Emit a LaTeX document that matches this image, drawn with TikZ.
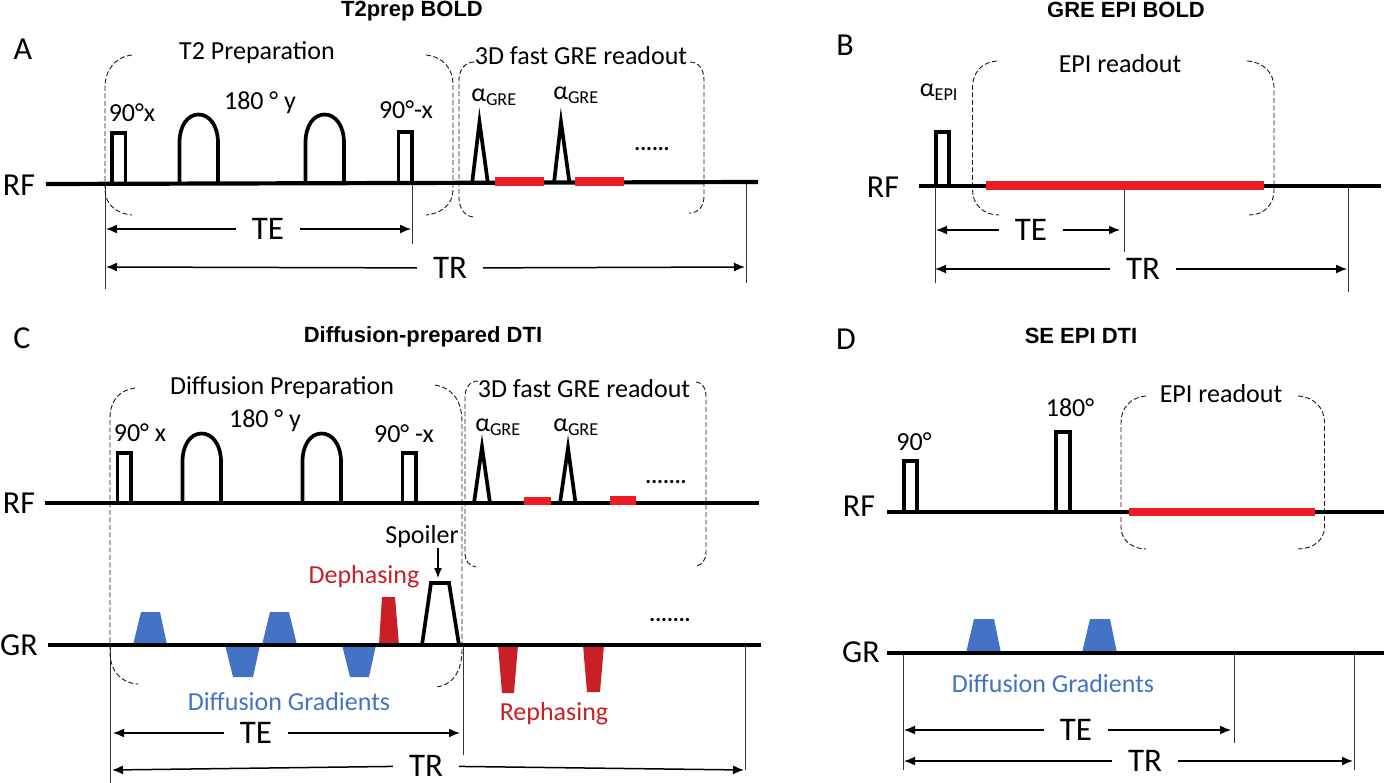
\documentclass[tikz,border=0pt]{standalone}
\usepackage{fontspec}
\setmainfont{Carlito}
\newfontfamily\titlefont{Liberation Sans}
\usetikzlibrary{positioning,arrows.meta}
\definecolor{readred}{RGB}{237,28,36}
\definecolor{gradred}{RGB}{200,32,38}
\definecolor{gradblue}{RGB}{68,114,196}
\begin{document}
\begin{tikzpicture}[
	x=1pt,y=-1pt,
	ar/.style={-{Latex[length=11pt,width=9pt]},line width=1.5pt},
	axisline/.style={line width=4.2pt},
	pulse/.style={line width=3.7pt,miter limit=10},
	timetick/.style={line width=1pt,black!80},
	bracket/.style={dash pattern=on 5pt off 2.5pt,line width=0.9pt,black!90},
	readbar/.style={fill=readred},
	blueramp/.style={fill=gradblue},
	redramp/.style={fill=gradred},
	titlelabel/.style={font=\titlefont\bfseries\fontsize{22}{26}\selectfont,inner sep=0pt},
	panellabel/.style={font=\fontsize{32}{36}\selectfont,inner sep=0pt},
	axislabel/.style={font=\fontsize{32}{36}\selectfont,inner sep=0pt},
	timelabel/.style={font=\fontsize{33}{36}\selectfont,inner ysep=0pt,inner xsep=16pt},
	mylabel/.style={font=\fontsize{26}{30}\selectfont,inner sep=0pt},
	gaplabel/.style={font=\fontsize{22}{26}\selectfont\bfseries,inner sep=0pt}
	]
	\useasboundingbox (0,0) rectangle (1384,783);

	% panel A
	\node[titlelabel] (titleA) at (412,11) {T2prep BOLD};
	\node[panellabel] (panelA) at (23,49) {A};
	\node[axislabel] (rfA) at (19,185) {RF};
	\coordinate (rfAstart) at (46,184);
	\coordinate (rfAend) at (758,182);
	\coordinate (tickA1) at (105,184);
	\coordinate (tickA1end) at (105,289);
	\coordinate (tickA2) at (412,184);
	\coordinate (tickA2end) at (412,244);
	\coordinate (tickA3) at (746,184);
	\coordinate (tickA3end) at (746,283);
	\draw[timetick] (tickA1) -- (tickA1end);
	\draw[timetick] (tickA2) -- (tickA2end);
	\draw[timetick] (tickA3) -- (tickA3end);
	\draw[bracket] (132,55) .. controls (115,57) and (105,70) .. (105,88) -- (105,190) .. controls (105,205) and (118,214) .. (132,215);
	\draw[bracket] (426,55) .. controls (443,57) and (453,68) .. (453,85) -- (453,190) .. controls (453,205) and (440,214) .. (426,215);
	\draw[bracket] (474,62) .. controls (465,62) and (459,70) .. (459,80) -- (459,198) .. controls (459,208) and (465,217) .. (474,217);
	\draw[bracket] (690,62) .. controls (699,62) and (704,70) .. (704,80) -- (704,196) .. controls (704,206) and (699,213) .. (689,213);
	\draw[axisline] (rfAstart) -- (rfAend);
	\draw[pulse] (112,184) -- (112,133) -- (125.5,133) -- (125.5,184);
	\draw[pulse] (179.5,184) -- (179.5,143) .. controls (179.5,125) and (188,114.5) .. (198.5,114.5) .. controls (209,114.5) and (218,125) .. (218,143) -- (218,184);
	\draw[pulse] (305.5,184) -- (305.5,143) .. controls (305.5,125) and (314,114.5) .. (324.5,114.5) .. controls (335,114.5) and (344,125) .. (344,143) -- (344,184);
	\draw[pulse] (398.5,184) -- (398.5,132) -- (412,132) -- (412,184);
	\draw[pulse] (472,184) -- (479.5,122) -- (488,184);
	\draw[pulse] (554,183) -- (561,122) -- (569.5,183);
	\fill[readbar] (495,177) rectangle (544,186);
	\fill[readbar] (575,177) rectangle (624,186);
	\node[gaplabel] (dotsA) at (652,149) {......};
	\node[mylabel] (prepA) at (257,53) {T2 Preparation};
	\node[mylabel] (readA) at (581,56) {3D fast GRE readout};
	\node[mylabel] (xA) at (132,113) {90°x};
	\node[mylabel] (yA) at (260,103) {180 ° y};
	\node[mylabel] (mxA) at (406,110) {90°-x};
	\node[mylabel] (alphaA1) at (494,97) {α\textsubscript{GRE}};
	\node[mylabel] (alphaA2) at (576,95) {α\textsubscript{GRE}};
	\node[timelabel] (teA) at (268,229) {TE};
	\node[timelabel] (trA) at (450,268) {TR};
	\coordinate (teAleft) at (106,229);
	\coordinate (teAright) at (411,229);
	\coordinate (trAleft) at (106,267);
	\coordinate (trAright) at (745,267);
	\draw[ar] (teA) -- (teAleft);
	\draw[ar] (teA) -- (teAright);
	\draw[ar] (trA) -- (trAleft);
	\draw[ar] (trA) -- (trAright);

	% panel B
	\node[titlelabel] (titleB) at (1126,10) {GRE EPI BOLD};
	\node[panellabel] (panelB) at (845,45) {B};
	\node[axislabel] (rfB) at (883,187) {RF};
	\coordinate (rfBstart) at (919,186);
	\coordinate (rfBend) at (1381,186);
	\coordinate (tickB1) at (935,186);
	\coordinate (tickB1end) at (935,283);
	\coordinate (tickB2) at (1124,186);
	\coordinate (tickB2end) at (1124,252);
	\coordinate (tickB3) at (1348,186);
	\coordinate (tickB3end) at (1348,292);
	\draw[timetick] (tickB1) -- (tickB1end);
	\draw[timetick] (tickB2) -- (tickB2end);
	\draw[timetick] (tickB3) -- (tickB3end);
	\draw[bracket] (997,61) .. controls (982,62) and (972.5,72) .. (972.5,88) -- (972.5,190) .. controls (972.5,205) and (984,215) .. (999,215);
	\draw[bracket] (1247,61) .. controls (1263,62) and (1274,72) .. (1274,88) -- (1274,190) .. controls (1274,205) and (1264,215) .. (1249,215);
	\draw[axisline] (rfBstart) -- (rfBend);
	\draw[pulse] (936,186) -- (936,132) -- (949,132) -- (949,186);
	\fill[readbar] (986,181) rectangle (1264,190);
	\node[mylabel] (alphaB) at (939,92) {α\textsubscript{EPI}};
	\node[mylabel] (readB) at (1120,64) {EPI readout};
	\node[timelabel] (teB) at (1031,230) {TE};
	\node[timelabel] (trB) at (1143,269) {TR};
	\coordinate (teBleft) at (936,230);
	\coordinate (teBright) at (1120,230);
	\coordinate (trBleft) at (935,269);
	\coordinate (trBright) at (1347,269);
	\draw[ar] (teB) -- (teBleft);
	\draw[ar] (teB) -- (teBright);
	\draw[ar] (trB) -- (trBleft);
	\draw[ar] (trB) -- (trBright);

	% panel C
	\node[titlelabel] (titleC) at (423,337) {Diffusion-prepared DTI};
	\node[panellabel] (panelC) at (22,338) {C};
	\node[axislabel] (rfC) at (19,503) {RF};
	\node[axislabel] (grC) at (19,645) {GR};
	\coordinate (rfCstart) at (45,503);
	\coordinate (rfCend) at (759,503);
	\coordinate (grCstart) at (48,645);
	\coordinate (grCend) at (761,645);
	\coordinate (tickC1) at (110,645);
	\coordinate (tickC1end) at (110,783);
	\coordinate (tickC2) at (463,645);
	\coordinate (tickC2end) at (463,755);
	\coordinate (tickC3) at (745,645);
	\coordinate (tickC3end) at (745,770);
	\draw[timetick] (tickC1) -- (tickC1end);
	\draw[timetick] (tickC2) -- (tickC2end);
	\draw[timetick] (tickC3) -- (tickC3end);
	\draw[bracket] (135,388) .. controls (120,390) and (110,400) .. (110,418) -- (110,652) .. controls (110,670) and (120,683) .. (138,684);
	\draw[bracket] (435,385) .. controls (452,388) and (462,400) .. (462,422) -- (462,650) .. controls (462,672) and (452,686) .. (435,687);
	\draw[bracket] (478,381) .. controls (470,381) and (465,388) .. (465,397) -- (465,553) .. controls (465,561) and (469,566) .. (476,567);
	\draw[bracket] (696,382) .. controls (702,382) and (706,388) .. (706,397) -- (706,552) .. controls (706,560) and (702,565) .. (696,566);
	\fill[blueramp] (133,645) -- (141,612) -- (160,612) -- (167,645) -- cycle;
	\fill[blueramp] (262,645) -- (270,612) -- (289,612) -- (297,645) -- cycle;
	\fill[blueramp] (225,645) -- (233,677) -- (253,677) -- (260,645) -- cycle;
	\fill[blueramp] (342,645) -- (350,677) -- (369,677) -- (376,645) -- cycle;
	\fill[redramp] (379,645) -- (382,597) -- (395,597) -- (399,645) -- cycle;
	\fill[redramp] (498,645) -- (502,693) -- (514,693) -- (518,645) -- cycle;
	\fill[redramp] (583,645) -- (587,692) -- (600,692) -- (604,645) -- cycle;
	\draw[pulse] (422,645) -- (431,583) -- (449,583) -- (459,645);
	\draw[axisline] (rfCstart) -- (rfCend);
	\draw[axisline] (grCstart) -- (grCend);
	\draw[pulse] (117.5,503) -- (117.5,453) -- (131,453) -- (131,503);
	\draw[pulse] (182.5,503) -- (182.5,462) .. controls (182.5,444) and (191,433.5) .. (201.5,433.5) .. controls (212,433.5) and (221,444) .. (221,462) -- (221,503);
	\draw[pulse] (302.5,503) -- (302.5,462) .. controls (302.5,444) and (311,433.5) .. (321.5,433.5) .. controls (332,433.5) and (341,444) .. (341,462) -- (341,503);
	\draw[pulse] (402.5,503) -- (402.5,453) -- (416,453) -- (416,503);
	\draw[pulse] (474,503) -- (482,447) -- (490,503);
	\draw[pulse] (560,503) -- (568,448) -- (575.5,503);
	\fill[readbar] (524,497) rectangle (551,505);
	\fill[readbar] (610,496) rectangle (636,505);
	\node[gaplabel] (dotsC1) at (666,482) {.......};
	\node[gaplabel] (dotsC2) at (670,620) {.......};
	\node[mylabel] (prepC) at (282,388) {Diffusion Preparation};
	\node[mylabel] (readC) at (584,389) {3D fast GRE readout};
	\node[mylabel] (xC) at (140,433) {90° x};
	\node[mylabel] (yC) at (265,421) {180 ° y};
	\node[mylabel] (mxC) at (404,434) {90° -x};
	\node[mylabel] (alphaC1) at (498,427) {α\textsubscript{GRE}};
	\node[mylabel] (alphaC2) at (576,427) {α\textsubscript{GRE}};
	\node[mylabel] (spoiler) at (422,537) {Spoiler};
	\coordinate (spoilertop) at (438,578);
	\draw[-{Latex[length=10pt,width=8pt]},line width=1.2pt] (spoiler.south -| spoilertop) -- (spoilertop);
	\node[mylabel,text=gradred] (dephase) at (364,577) {Dephasing};
	\node[mylabel,text=gradblue] (gradsC) at (289,702) {Diffusion Gradients};
	\node[mylabel,text=gradred] (rephase) at (554,714) {Rephasing};
	\node[timelabel] (teC) at (256,733) {TE};
	\node[timelabel] (trC) at (426,766) {TR};
	\coordinate (teCleft) at (113,733);
	\coordinate (teCright) at (460,733);
	\coordinate (trCleft) at (112,770);
	\coordinate (trCright) at (744,770);
	\draw[ar] (teC) -- (teCleft);
	\draw[ar] (teC) -- (teCright);
	\draw[ar] (trC) -- (trCleft);
	\draw[ar] (trC) -- (trCright);

	% panel D
	\node[titlelabel] (titleD) at (1081,336) {SE EPI DTI};
	\node[panellabel] (panelD) at (846,339) {D};
	\node[axislabel] (rfD) at (859,506) {RF};
	\node[axislabel] (grD) at (861,652) {GR};
	\coordinate (rfDstart) at (887,512);
	\coordinate (rfDend) at (1384,512);
	\coordinate (grDstart) at (887,653);
	\coordinate (grDend) at (1384,653);
	\coordinate (tickD1) at (903.5,653);
	\coordinate (tickD1end) at (903.5,770);
	\coordinate (tickD2) at (1234,653);
	\coordinate (tickD2end) at (1234,743);
	\coordinate (tickD3) at (1354,653);
	\coordinate (tickD3end) at (1354,770);
	\draw[timetick] (tickD1) -- (tickD1end);
	\draw[timetick] (tickD2) -- (tickD2end);
	\draw[timetick] (tickD3) -- (tickD3end);
	\draw[bracket] (1146,396) .. controls (1131,397) and (1121,408) .. (1121,422) -- (1121,527) .. controls (1121,540) and (1132,549) .. (1146,549);
	\draw[bracket] (1298,396) .. controls (1314,397) and (1324.5,408) .. (1324.5,422) -- (1324.5,527) .. controls (1324.5,540) and (1313,549) .. (1298,549);
	\fill[blueramp] (966,653) -- (974,619) -- (994,619) -- (1001,653) -- cycle;
	\fill[blueramp] (1082,653) -- (1090,619) -- (1110,619) -- (1117,653) -- cycle;
	\draw[axisline] (rfDstart) -- (rfDend);
	\draw[axisline] (grDstart) -- (grDend);
	\draw[pulse] (904,512) -- (904,461) -- (917,461) -- (917,512);
	\draw[pulse] (1056,512) -- (1056,432) -- (1070,432) -- (1070,512);
	\fill[readbar] (1129,508) rectangle (1315,516);
	\node[mylabel] (ninetyD) at (914,442) {90°};
	\node[mylabel] (oneeightyD) at (1070,408) {180°};
	\node[mylabel] (readD) at (1221,394) {EPI readout};
	\node[mylabel,text=gradblue] (gradsD) at (1053,684) {Diffusion Gradients};
	\node[timelabel] (teD) at (1076,730) {TE};
	\node[timelabel] (trD) at (1145,761) {TR};
	\coordinate (teDleft) at (904,730);
	\coordinate (teDright) at (1231,730);
	\coordinate (trDleft) at (904,761);
	\coordinate (trDright) at (1353,761);
	\draw[ar] (teD) -- (teDleft);
	\draw[ar] (teD) -- (teDright);
	\draw[ar] (trD) -- (trDleft);
	\draw[ar] (trD) -- (trDright);
\end{tikzpicture}
\end{document}
